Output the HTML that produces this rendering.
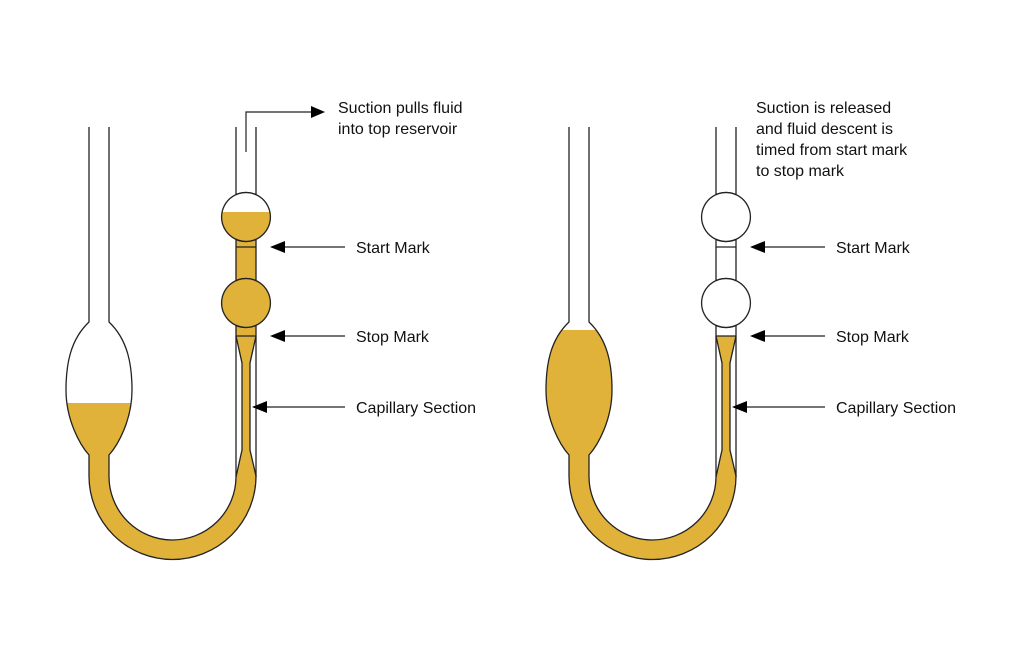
<!DOCTYPE html>
<html><head><meta charset="utf-8"><style>
html,body{margin:0;padding:0;background:#fff;}
svg{display:block;}
text{font-family:"Liberation Sans",Arial,sans-serif;font-size:16px;fill:#111;}
</style></head><body>
<svg width="1024" height="663" viewBox="0 0 1024 663" xmlns="http://www.w3.org/2000/svg">
<defs>
<path id="inner" d="M89,127 L89,322 C70,340 66,365 66,390 C66,420 80,445 89,455 L89,476 A83.5,83.5 0 0 0 256,476 L250,450 L250,363 L256,336 L256,325.4 A24.5,24.5 0 1 1 256,280.6 L256,239.4 A24.5,24.5 0 1 1 256,194.6 L256,127 L236,127 L236,194.6 A24.5,24.5 0 1 1 236,239.4 L236,280.6 A24.5,24.5 0 1 1 236,325.4 L236,336 L242,363 L242,450 L236,477 A63.5,63.5 0 0 1 109,476 L109,455 C118,445 132,420 132,390 C132,365 128,340 109,322 L109,127 Z"/>
<g id="outline" fill="none" stroke="#222" stroke-width="1.3">
<path d="M89,127 L89,322 C70,340 66,365 66,390 C66,420 80,445 89,455 L89,476 A83.5,83.5 0 0 0 256,476 L250,450 L250,363 L256,336 L256,325.4 A24.5,24.5 0 1 1 256,280.6 L256,239.4 A24.5,24.5 0 1 1 256,194.6 L256,127"/>
<path d="M236,127 L236,194.6 A24.5,24.5 0 1 1 236,239.4 L236,280.6 A24.5,24.5 0 1 1 236,325.4 L236,336 L242,363 L242,450 L236,477 A63.5,63.5 0 0 1 109,476 L109,455 C118,445 132,420 132,390 C132,365 128,340 109,322 L109,127"/>
<line x1="236" y1="247" x2="256" y2="247"/>
<line x1="236" y1="336" x2="256" y2="336"/>
<line x1="236" y1="336" x2="236" y2="477"/>
<line x1="256" y1="336" x2="256" y2="477"/>
</g>
<clipPath id="c1"><rect x="0" y="403" width="172" height="260"/><rect x="172" y="212" width="200" height="451"/></clipPath>
<clipPath id="c2"><rect x="0" y="330" width="172" height="333"/><rect x="172" y="336" width="200" height="327"/></clipPath>
</defs>
<g clip-path="url(#c1)"><use href="#inner" fill="#E1B23A"/></g>
<use href="#outline"/>
<g transform="translate(480,0)">
<g clip-path="url(#c2)"><use href="#inner" fill="#E1B23A"/></g>
<use href="#outline"/>
</g>
<g stroke="#222" stroke-width="1.2" fill="none">
<polyline points="246,152 246,112 312,112"/>
<line x1="283" y1="247" x2="345" y2="247"/>
<line x1="283" y1="336" x2="345" y2="336"/>
<line x1="265" y1="407" x2="345" y2="407"/>
<line x1="763" y1="247" x2="825" y2="247"/>
<line x1="763" y1="336" x2="825" y2="336"/>
<line x1="745" y1="407" x2="825" y2="407"/>
</g>
<g fill="#000">
<polygon points="325,112 311,106 311,118"/>
<polygon points="270,247 285,241 285,253"/>
<polygon points="270,336 285,330 285,342"/>
<polygon points="252,407 267,401 267,413"/>
<polygon points="750,247 765,241 765,253"/>
<polygon points="750,336 765,330 765,342"/>
<polygon points="732,407 747,401 747,413"/>
</g>
<text x="338" y="113">Suction pulls fluid</text>
<text x="338" y="134">into top reservoir</text>
<text x="356" y="253">Start Mark</text>
<text x="356" y="342">Stop Mark</text>
<text x="356" y="413">Capillary Section</text>
<text x="756" y="113">Suction is released</text>
<text x="756" y="134">and fluid descent is</text>
<text x="756" y="155">timed from start mark</text>
<text x="756" y="176">to stop mark</text>
<text x="836" y="253">Start Mark</text>
<text x="836" y="342">Stop Mark</text>
<text x="836" y="413">Capillary Section</text>
</svg>
</body></html>
